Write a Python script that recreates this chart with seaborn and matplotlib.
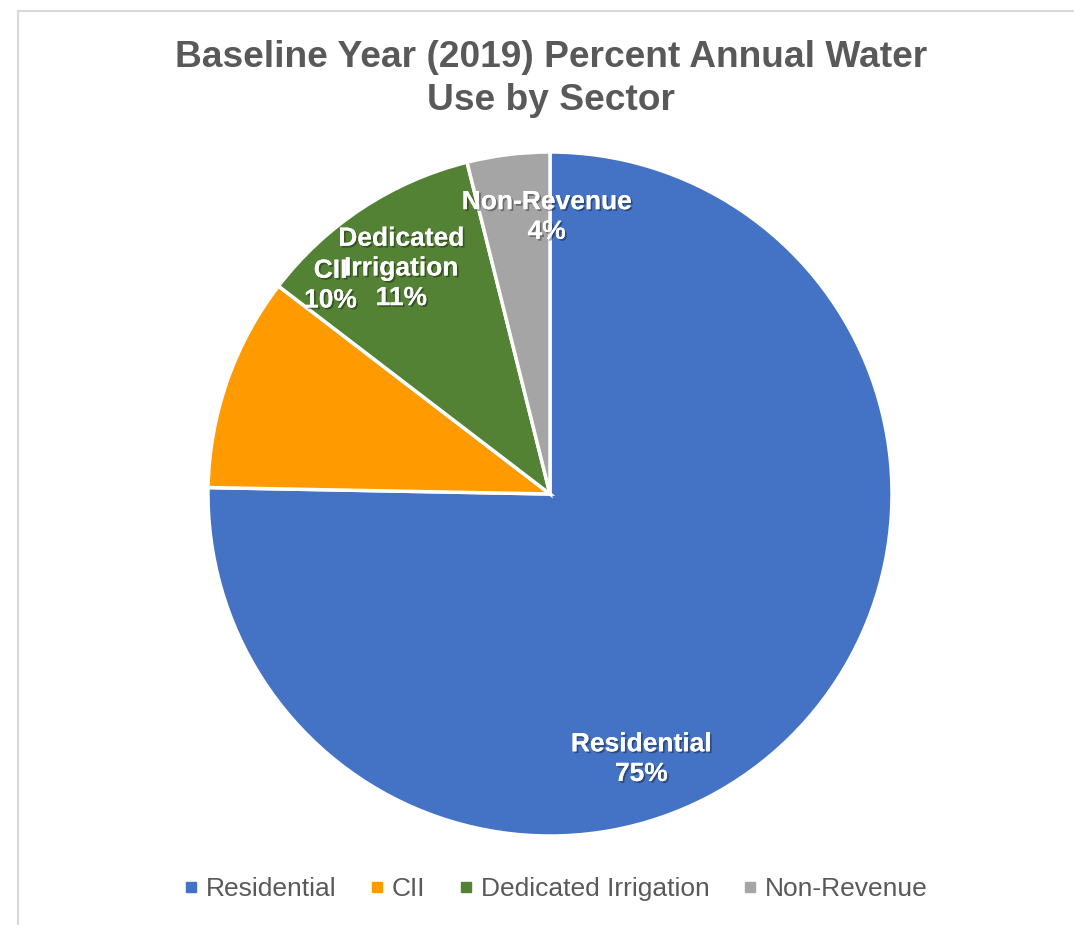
import numpy as np
import matplotlib
matplotlib.use("Agg")
import matplotlib.pyplot as plt
import matplotlib.patheffects as pe
from matplotlib.lines import Line2D
import seaborn as sns

# ---- data ----
categories = ["Residential", "CII", "Dedicated Irrigation", "Non-Revenue"]
values = [75.3, 10.1, 10.7, 3.9]
label_texts = ["Residential", "CII", "Dedicated\nIrrigation", "Non-Revenue"]
colors = ["#4472C4", "#FF9A00", "#548235", "#A5A5A5"]

# label placement (fraction of radius, angle in degrees) as Excel placed them
label_layout = [(0.82, -71.0), (0.885, 136.5), (0.79, 123.4), (0.81, 90.7)]

sns.set_theme(style="white")
plt.rcParams["font.family"] = ["Liberation Sans", "DejaVu Sans"]

W, H = 1074, 925
fig = plt.figure(figsize=(W / 100, H / 100), dpi=100)
fig.patch.set_facecolor("white")

cx, cy, R = 550, 494, 342
ax = fig.add_axes([(cx - R) / W, (H - cy - R) / H, 2 * R / W, 2 * R / H])
wedges, _ = ax.pie(values, colors=colors, startangle=90, counterclock=False,
                   radius=1.0,
                   wedgeprops=dict(edgecolor="white", linewidth=2.5))
ax.set_xlim(-1, 1)
ax.set_ylim(-1, 1)
ax.set_aspect("equal")
ax.axis("off")

shadow = [pe.withSimplePatchShadow(offset=(1.3, -1.3), shadow_rgbFace="black", alpha=0.35),
          pe.Normal()]
for txt, v, (rf, ang) in zip(label_texts, values, label_layout):
    a = np.deg2rad(ang)
    ax.text(rf * np.cos(a), rf * np.sin(a), f"{txt}\n{v:.0f}%",
            ha="center", va="center", color="white", fontsize=19,
            fontweight="bold", linespacing=1.3, path_effects=shadow)

fig.text(551 / W, 1 - 79 / H, "Baseline Year (2019) Percent Annual Water\nUse by Sector",
         ha="center", va="center", fontsize=26.7, fontweight="bold",
         color="#595959", linespacing=1.32)

handles = [Line2D([0], [0], marker="s", linestyle="none", markersize=6.5,
                  markerfacecolor=c, markeredgecolor=c) for c in colors]
leg = fig.legend(handles, categories, loc="center", bbox_to_anchor=(556 / W, 1 - 889 / H),
                 ncol=4, frameon=False, fontsize=19, handlelength=0.5,
                 handletextpad=0.3, columnspacing=1.3)
for t in leg.get_texts():
    t.set_color("#595959")

# chart frame edges visible in the crop
fig.add_artist(Line2D([18 / W, 1], [1 - 11 / H, 1 - 11 / H], color="#D9D9D9", lw=1.5,
                      transform=fig.transFigure))
fig.add_artist(Line2D([18 / W, 18 / W], [0, 1 - 11 / H], color="#D9D9D9", lw=1.5,
                      transform=fig.transFigure))

fig.savefig("out.png", dpi=100, facecolor="white")
